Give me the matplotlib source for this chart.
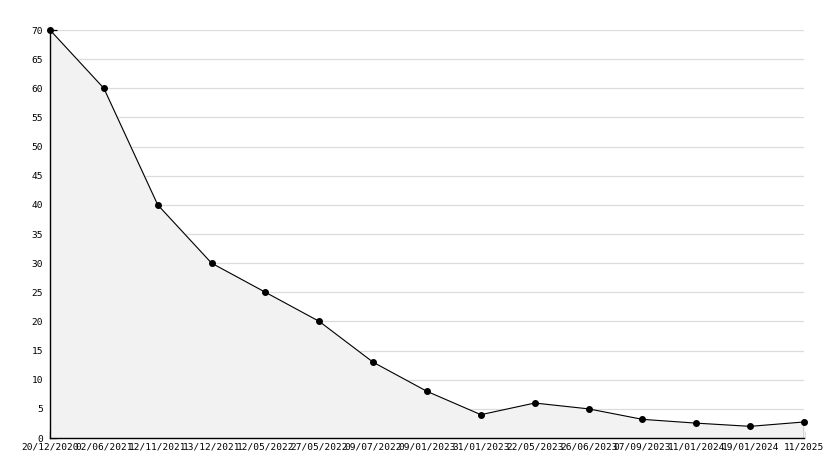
import numpy as np
import matplotlib
matplotlib.use("Agg")
import matplotlib.pyplot as plt
from matplotlib.ticker import MultipleLocator

dates = ["20/12/2020", "02/06/2021", "12/11/2021", "13/12/2021", "12/05/2022",
         "27/05/2022", "09/07/2022", "09/01/2023", "31/01/2023", "22/05/2023",
         "26/06/2023", "07/09/2023", "11/01/2024", "19/01/2024", "11/2025"]
values = [70, 60, 40, 30, 25, 20, 13, 8, 4, 6, 5, 3.2, 2.55, 2.0, 2.75]

x = np.arange(len(values))

fig = plt.figure(figsize=(8.34, 4.68), dpi=100)
ax = fig.add_axes([50 / 834, 30 / 468, 754 / 834, 408 / 468])

ax.fill_between(x, values, 0, color="#f2f2f2", zorder=1)
ax.plot(x, values, color="black", lw=0.8, marker="o", ms=4, zorder=3, clip_on=False)
ax.vlines(x[-1], 0, values[-1], color="black", lw=0.9, zorder=3)

ax.set_xlim(0, len(values) - 1)
ax.set_ylim(0, 70)
ax.set_xticks(x)
ax.set_xticklabels(dates)
ax.yaxis.set_major_locator(MultipleLocator(5))
ax.yaxis.set_minor_locator(MultipleLocator(1))
ax.grid(axis="y", color="#dcdcdc", lw=0.9, zorder=0)
ax.set_axisbelow(True)

for s in ["top", "right"]:
    ax.spines[s].set_visible(False)
for s in ["left", "bottom"]:
    ax.spines[s].set_linewidth(1.0)

ax.tick_params(axis="both", which="major", direction="in", length=5, width=0.9,
               labelsize=6.8, colors="black")
ax.tick_params(axis="y", which="major", pad=5)
ax.tick_params(axis="x", which="major", pad=3)
ax.tick_params(axis="y", which="minor", direction="in", length=3, width=0.8)
for lab in ax.get_xticklabels() + ax.get_yticklabels():
    lab.set_family("DejaVu Sans Mono")

fig.savefig("out.png", dpi=100)
